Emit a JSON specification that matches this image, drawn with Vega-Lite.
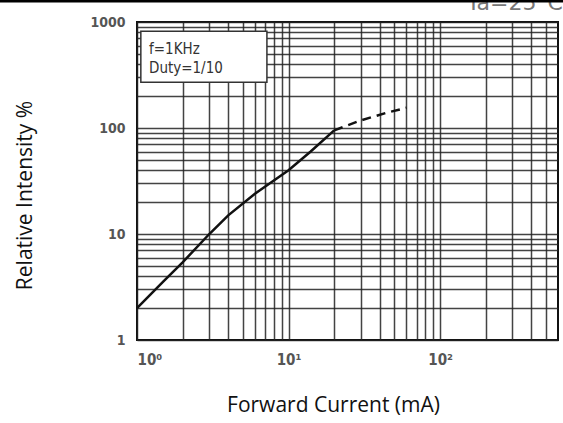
{
  "$schema": "https://vega.github.io/schema/vega-lite/v6.json",
  "autosize": {"type": "none"},
  "padding": {"left": 137, "top": 22, "right": 5, "bottom": 83},
  "width": 421,
  "height": 318,
  "background": "white",
  "config": {
    "view": {"stroke": "#111", "strokeWidth": 2},
    "axis": {"domain": false, "ticks": false, "grid": true, "gridColor": "#222", "gridWidth": 1.5, "gridOpacity": 0.85,
      "labelFont": "DejaVu Sans Condensed, Liberation Sans Narrow, DejaVu Sans", "labelFontWeight": "bold", "labelColor": "#555", "labelFontSize": 14,
      "titleFont": "Open Sans", "titleFontWeight": "normal", "titleFontSize": 21, "titleColor": "#111"}
  },
  "datasets": {
    "solid": [
      {"current": 1, "intensity": 2},
      {"current": 1.5, "intensity": 3.6},
      {"current": 2, "intensity": 5.4},
      {"current": 3, "intensity": 10},
      {"current": 4, "intensity": 15},
      {"current": 6, "intensity": 24},
      {"current": 8, "intensity": 32},
      {"current": 10, "intensity": 40},
      {"current": 14, "intensity": 60},
      {"current": 20, "intensity": 95}
    ],
    "dashed": [
      {"current": 20, "intensity": 95},
      {"current": 30, "intensity": 118},
      {"current": 45, "intensity": 140},
      {"current": 60, "intensity": 155}
    ],
    "note": [
      {"x": 1.2, "y": 560, "label": "f=1KHz"},
      {"x": 1.2, "y": 368, "label": "Duty=1/10"}
    ],
    "box": [{"x": 1.06, "x2": 7.2, "y": 270, "y2": 820}]
  },
  "layer": [
    {
      "data": {"name": "solid"},
      "mark": {"type": "line", "color": "#111", "strokeWidth": 2.5},
      "encoding": {
        "x": {"field": "current", "type": "quantitative",
          "scale": {"type": "log", "domain": [1, 600], "nice": false},
          "axis": {"values": [1,2,3,4,5,6,7,8,9,10,20,30,40,50,60,70,80,90,100,200,300,400,500],
            "labelExpr": "datum.value == 1 ? '10⁰' : datum.value == 10 ? '10¹' : datum.value == 100 ? '10²' : ''",
            "labelPadding": 12, "labelFontSize": 15,
            "title": "Forward Current (mA)", "titleX": 196, "titleY": 65, "titleBaseline": "middle"}},
        "y": {"field": "intensity", "type": "quantitative",
          "scale": {"type": "log", "domain": [1, 1000], "nice": false},
          "axis": {"values": [1,2,3,4,5,6,7,8,9,10,20,30,40,50,60,70,80,90,100,200,300,400,500,600,700,800,900,1000],
            "labelExpr": "datum.value == 1 || datum.value == 10 || datum.value == 100 || datum.value == 1000 ? format(datum.value, 'd') : ''",
            "labelPadding": 12,
            "title": "Relative Intensity %", "titleX": -112, "titleY": 173, "titleBaseline": "middle", "titleAngle": -90}}
      }
    },
    {
      "data": {"name": "dashed"},
      "mark": {"type": "line", "color": "#111", "strokeWidth": 2.5, "strokeDash": [9, 6]},
      "encoding": {
        "x": {"field": "current", "type": "quantitative"},
        "y": {"field": "intensity", "type": "quantitative"}
      }
    },
    {
      "data": {"name": "box"},
      "mark": {"type": "rect", "fill": "white", "stroke": "#333", "strokeWidth": 1.5},
      "encoding": {
        "x": {"field": "x", "type": "quantitative"},
        "x2": {"field": "x2"},
        "y": {"field": "y", "type": "quantitative"},
        "y2": {"field": "y2"}
      }
    },
    {
      "data": {"name": "note"},
      "mark": {"type": "text", "align": "left", "baseline": "middle", "font": "DejaVu Sans Condensed, Liberation Sans Narrow, DejaVu Sans", "fontSize": 15, "color": "#333"},
      "encoding": {
        "x": {"field": "x", "type": "quantitative"},
        "y": {"field": "y", "type": "quantitative"},
        "text": {"field": "label"}
      }
    },
    {
      "data": {"values": [{"t": "Ta=25°C"}]},
      "mark": {"type": "text", "align": "left", "baseline": "alphabetic", "fontSize": 22, "color": "#777", "font": "DejaVu Sans", "clip": false},
      "encoding": {
        "x": {"datum": 150},
        "y": {"datum": 1300},
        "text": {"field": "t"}
      }
    },
    {
      "data": {"values": [{}]},
      "mark": {"type": "rule", "color": "#000", "strokeWidth": 3, "clip": false},
      "encoding": {
        "x": {"datum": 0.12},
        "x2": {"datum": 700},
        "y": {"datum": 1580}
      }
    }
  ]
}
